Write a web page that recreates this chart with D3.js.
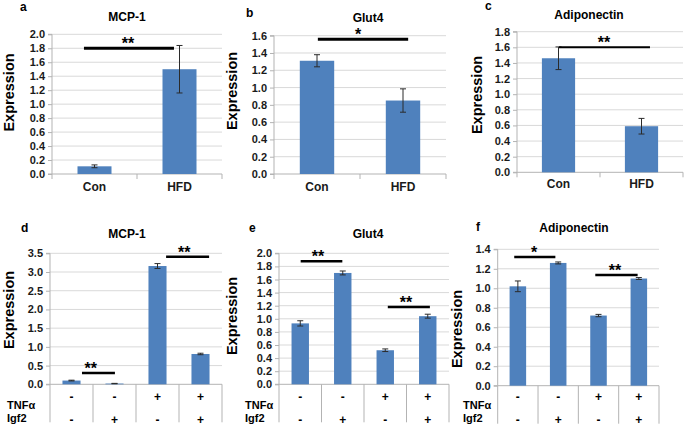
<!DOCTYPE html>
<html><head><meta charset="utf-8">
<script src="https://cdn.jsdelivr.net/npm/d3@7/dist/d3.min.js"></script>
<style>
body{margin:0;background:#fff;}
svg{display:block;font-family:"Liberation Sans",Arial,sans-serif;}
</style></head>
<body><svg id="c" width="686" height="429"></svg>
<script>
// ---------- data ----------
const panelLetters = ["a", "b", "c", "d", "e", "f"];
const panelTitles = ["MCP-1", "Glut4", "Adiponectin", "MCP-1", "Glut4", "Adiponectin"];
const topCategories = ["Con", "HFD"];
const tnfRow = ["-", "-", "+", "+"];
const igf2Row = ["-", "+", "-", "+"];
const rowLabels = ["TNFα", "Igf2"];
const yLabel = "Expression";

const mcp1HfdValues = [0.11, 1.50];
const mcp1HfdErrors = [0.02, 0.34];
const glut4HfdValues = [1.31, 0.85];
const glut4HfdErrors = [0.07, 0.135];
const adipoHfdValues = [1.46, 0.59];
const adipoHfdErrors = [0.145, 0.10];

const mcp1CellValues = [0.10, 0.02, 3.16, 0.81];
const mcp1CellErrors = [0.01, 0.005, 0.065, 0.02];
const glut4CellValues = [0.93, 1.70, 0.52, 1.04];
const glut4CellErrors = [0.04, 0.03, 0.02, 0.03];
const adipoCellValues = [1.02, 1.26, 0.72, 1.10];
const adipoCellErrors = [0.055, 0.01, 0.012, 0.01];

const ticksA = [0.0, 0.2, 0.4, 0.6, 0.8, 1.0, 1.2, 1.4, 1.6, 1.8, 2.0];
const ticksB = [0.0, 0.2, 0.4, 0.6, 0.8, 1.0, 1.2, 1.4, 1.6];
const ticksC = [0.0, 0.2, 0.4, 0.6, 0.8, 1.0, 1.2, 1.4, 1.6, 1.8];
const ticksD = [0.0, 0.5, 1.0, 1.5, 2.0, 2.5, 3.0, 3.5];
const ticksE = [0.0, 0.2, 0.4, 0.6, 0.8, 1.0, 1.2, 1.4, 1.6, 1.8, 2.0];
const ticksF = [0.0, 0.2, 0.4, 0.6, 0.8, 1.0, 1.2, 1.4];

const sigLevelsA = [1.8], sigLabelsA = ["**"];
const sigLevelsB = [1.56], sigLabelsB = ["*"];
const sigLevelsC = [1.6], sigLabelsC = ["**"];
const sigLevelsD = [0.30, 3.41], sigLabelsD = ["**", "**"];
const sigLevelsE = [1.88, 1.18], sigLabelsE = ["**", "**"];
const sigLevelsF = [1.32, 1.135], sigLabelsF = ["*", "**"];

// ---------- layout ----------
const layouts = [
  {x0:52, x1:222, yT:34.3, y0:174, bw:0.40, letter:[20,11], title:[127,21], titleW:"bold",
   ylab:[10,92.5], catY:191, sigX:[[0.376,1.435]], starX:[0.894], sigW:3},
  {x0:274, x1:446, yT:35.7, y0:174, bw:0.40, letter:[246,17], title:[368,22], titleW:"normal",
   ylab:[233,91], catY:191, sigX:[[0.51,1.56]], starX:[0.977], sigW:3},
  {x0:517, x1:683, yT:31.7, y0:172.3, bw:0.40, letter:[485,10], title:[589,19], titleW:"bold",
   ylab:[478,95], catY:188, sigX:[[0.506,1.602]], starX:[1.048], sigW:2},
  {x0:50, x1:222, yT:253.3, y0:384.3, bw:0.42, letter:[21,232], title:[127,238], titleW:"normal",
   ylab:[10,310], rowX:7, sigX:[[0.744,1.51],[2.70,3.70]], starX:[0.95,3.12], sigW:2.5},
  {x0:279, x1:449, yT:253.3, y0:384.3, bw:0.41, letter:[249,232], title:[368,238], titleW:"normal",
   ylab:[233,316], rowX:245, sigX:[[0.51,1.49],[2.56,3.55]], starX:[0.92,2.99], sigW:2.5},
  {x0:497.7, x1:659, yT:249.3, y0:385.7, bw:0.41, letter:[476,231], title:[574,232], titleW:"bold",
   ylab:[458,329], rowX:463, sigX:[[0.41,1.43],[2.42,3.47]], starX:[0.90,2.91], sigW:2.5}
];

const panels = [
  {cats: topCategories, values: mcp1HfdValues, errors: mcp1HfdErrors, ticks: ticksA, sig: sigLevelsA, sigL: sigLabelsA},
  {cats: topCategories, values: glut4HfdValues, errors: glut4HfdErrors, ticks: ticksB, sig: sigLevelsB, sigL: sigLabelsB},
  {cats: topCategories, values: adipoHfdValues, errors: adipoHfdErrors, ticks: ticksC, sig: sigLevelsC, sigL: sigLabelsC},
  {cats: [0,1,2,3], values: mcp1CellValues, errors: mcp1CellErrors, ticks: ticksD, sig: sigLevelsD, sigL: sigLabelsD, rows: true},
  {cats: [0,1,2,3], values: glut4CellValues, errors: glut4CellErrors, ticks: ticksE, sig: sigLevelsE, sigL: sigLabelsE, rows: true},
  {cats: [0,1,2,3], values: adipoCellValues, errors: adipoCellErrors, ticks: ticksF, sig: sigLevelsF, sigL: sigLabelsF, rows: true}
];

const BAR = "#4F81BD", GRID = "#d9d9d9", AXIS = "#b3b3b3";
const svg = d3.select("#c");

panels.forEach((p, i) => {
  const L = layouts[i];
  const g = svg.append("g");
  const yMax = p.ticks[p.ticks.length - 1];
  const y = d3.scaleLinear().domain([0, yMax]).range([L.y0, L.yT]);
  const x = d3.scaleBand().domain(p.cats).range([L.x0, L.x1]).paddingInner(0).paddingOuter(0);
  const bandW = x.bandwidth();
  const xu = u => L.x0 + u * bandW; // position in band units

  // gridlines
  g.selectAll(".grid").data(p.ticks.slice(1)).join("line")
    .attr("x1", L.x0).attr("x2", L.x1).attr("y1", d => y(d)).attr("y2", d => y(d))
    .attr("stroke", GRID).attr("stroke-width", 1);

  // y axis
  const yAxis = d3.axisLeft(y).tickValues(p.ticks).tickFormat(d3.format(".1f")).tickSize(4).tickPadding(3);
  const ya = g.append("g").attr("transform", `translate(${L.x0},0)`).call(yAxis);
  ya.select(".domain").attr("stroke", AXIS).attr("d", `M-4,${L.y0}H0V${L.yT}H-4`);
  ya.selectAll(".tick line").attr("stroke", AXIS);
  ya.selectAll(".tick text").attr("font-size", 11).attr("font-weight", "bold").attr("fill", "#1a1a1a")
    .attr("font-family", "Liberation Sans, Arial, sans-serif");

  // x axis
  g.append("line").attr("x1", L.x0).attr("x2", L.x1).attr("y1", L.y0).attr("y2", L.y0)
    .attr("stroke", AXIS).attr("stroke-width", 1);
  const bounds = p.cats.map(c => x(c)).concat([L.x1]);
  const tickLen = p.rows ? 38 : 5;
  g.selectAll(".xt").data(bounds).join("line")
    .attr("x1", d => d).attr("x2", d => d).attr("y1", L.y0).attr("y2", L.y0 + tickLen)
    .attr("stroke", AXIS);

  // bars
  const bw = bandW * L.bw;
  g.selectAll(".bar").data(p.values).join("rect")
    .attr("x", (d, j) => x(p.cats[j]) + (bandW - bw) / 2)
    .attr("width", bw)
    .attr("y", d => y(d)).attr("height", d => L.y0 - y(d))
    .attr("fill", BAR);

  // error bars
  const cap = 3;
  p.values.forEach((v, j) => {
    const cx = x(p.cats[j]) + bandW / 2;
    const e = p.errors[j];
    const eg = g.append("g").attr("stroke", "#2b2b2b").attr("stroke-width", 1);
    eg.append("line").attr("x1", cx).attr("x2", cx).attr("y1", y(v - e)).attr("y2", y(v + e));
    eg.append("line").attr("x1", cx - cap).attr("x2", cx + cap).attr("y1", y(v + e)).attr("y2", y(v + e));
    eg.append("line").attr("x1", cx - cap).attr("x2", cx + cap).attr("y1", y(v - e)).attr("y2", y(v - e));
  });

  // significance
  p.sig.forEach((lev, k) => {
    const [a, b] = L.sigX[k];
    g.append("line").attr("x1", xu(a)).attr("x2", xu(b)).attr("y1", y(lev)).attr("y2", y(lev))
      .attr("stroke", "#000").attr("stroke-width", L.sigW);
    g.append("text").attr("x", xu(L.starX[k])).attr("y", y(lev) + 1)
      .attr("text-anchor", "middle").attr("font-size", 16).attr("font-weight", "bold")
      .text(p.sigL[k]);
  });

  // category labels
  if (!p.rows) {
    g.selectAll(".cat").data(p.cats).join("text")
      .attr("x", d => x(d) + bandW / 2).attr("y", L.catY)
      .attr("text-anchor", "middle").attr("font-size", 12).attr("font-weight", "bold").attr("fill", "#1a1a1a")
      .text(d => d);
  } else {
    g.selectAll(".r1").data(tnfRow).join("text")
      .attr("x", (d, j) => x(p.cats[j]) + bandW / 2).attr("y", 400.5)
      .attr("text-anchor", "middle").attr("font-size", 12).attr("font-weight", "bold").text(d => d);
    g.selectAll(".r2").data(igf2Row).join("text")
      .attr("x", (d, j) => x(p.cats[j]) + bandW / 2).attr("y", 423.5)
      .attr("text-anchor", "middle").attr("font-size", 12).attr("font-weight", "bold").text(d => d);
    g.append("text").attr("x", L.rowX).attr("y", 409).attr("font-size", 11).attr("font-weight", "bold").text(rowLabels[0]);
    g.append("text").attr("x", L.rowX).attr("y", 422).attr("font-size", 11).attr("font-weight", "bold").text(rowLabels[1]);
  }

  // y label
  g.append("text").attr("transform", `translate(${L.ylab[0]},${L.ylab[1]}) rotate(-90)`)
    .attr("text-anchor", "middle").attr("dominant-baseline", "middle")
    .attr("font-size", 14.5).attr("font-weight", "bold").text(yLabel);

  // letter and title
  g.append("text").attr("x", L.letter[0]).attr("y", L.letter[1])
    .attr("font-size", 12).attr("font-weight", "bold").text(panelLetters[i]);
  g.append("text").attr("x", L.title[0]).attr("y", L.title[1]).attr("text-anchor", "middle")
    .attr("font-size", 12).attr("font-weight", L.titleW === "bold" ? "bold" : 600).text(panelTitles[i]);
});
</script></body></html>
